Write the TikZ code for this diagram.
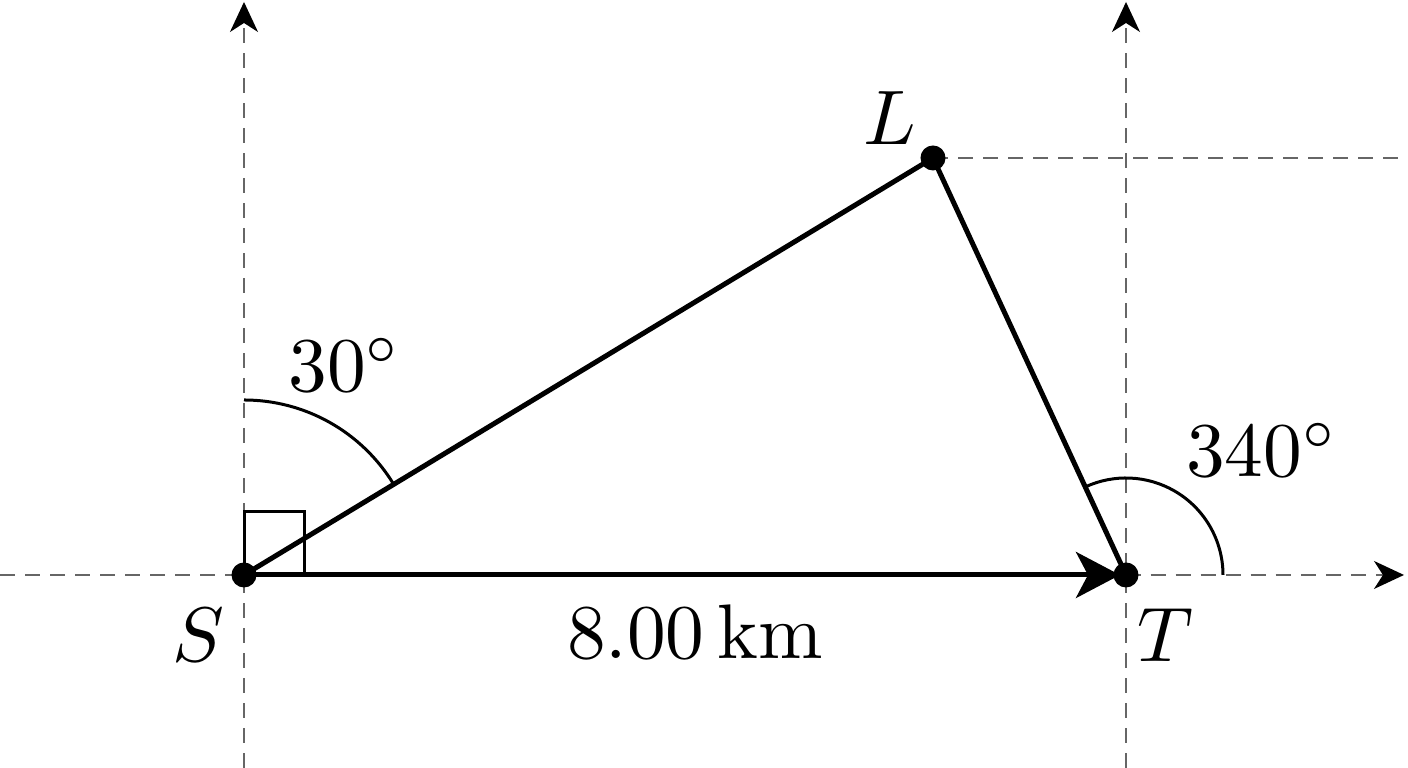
\documentclass[tikz,border=0pt]{standalone}
\usetikzlibrary{arrows.meta,calc}
\newcommand{\bigtxt}[1]{\scalebox{2.2}{#1}}
\begin{document}
\begin{tikzpicture}[x=0.01cm,y=0.01cm,
  axis/.style={draw=black!60,line width=0.016cm,dash pattern=on 0.15cm off 0.10cm,
    -{Stealth[length=0.30cm,width=0.28cm,inset=0.09cm,color=black]}},
  guide/.style={draw=black!60,line width=0.016cm,dash pattern=on 0.15cm off 0.10cm},
  thickline/.style={line width=0.05cm,black},
  thinline/.style={line width=0.03cm,black},
  dot/.style={circle,fill=black,inner sep=0pt,minimum size=0.25cm},
  lbl/.style={font=\normalsize,inner sep=0pt}]
\useasboundingbox (0,0) rectangle (1408,768);
\coordinate (S) at (244,193);
\coordinate (T) at (1126,193);
\coordinate (L) at (933,610);
\coordinate (Sbot) at (244,0);
\coordinate (Stop) at (244,766);
\coordinate (Tbot) at (1126,0);
\coordinate (Ttop) at (1126,766);
\coordinate (Hleft) at (0,193);
\coordinate (Hright) at (1404,193);
\coordinate (Lright) at (1408,610);
% axes
\draw[axis] (Sbot) -- (Stop);
\draw[axis] (Tbot) -- (Ttop);
\draw[axis] (Hleft) -- (Hright);
\draw[guide] (L) -- (Lright);
% right angle
\draw[thinline] (S) rectangle ++(60,63);
% angle arcs
\draw[thinline] (S) ++(90:175) arc[start angle=90,end angle=31.2,radius=175];
\draw[thinline] (T) ++(0:97) arc[start angle=0,end angle=114.8,radius=97];
% triangle
\draw[thickline] (S) -- (L) -- (T);
\draw[thickline,-{Stealth[length=0.44cm,width=0.46cm,inset=0.12cm]},shorten >=0.06cm] (S) -- (T);
\node[dot] (Sd) at (S) {};
\node[dot] (Td) at (T) {};
\node[dot] (Ld) at (L) {};
% labels
\node[lbl] (Slbl) at (198,133) {\bigtxt{$S$}};
\node[lbl] (Tlbl) at (1165,133) {\bigtxt{$T$}};
\node[lbl] (Llbl) at (890,650) {\bigtxt{$L$}};
\node[lbl] (a30) at (345,403) {\bigtxt{$30^\circ$}};
\node[lbl] (a340) at (1262,318) {\bigtxt{$340^\circ$}};
\node[lbl] (dist) at (695,136) {\bigtxt{$8.00\,\mathrm{km}$}};
\end{tikzpicture}
\end{document}
